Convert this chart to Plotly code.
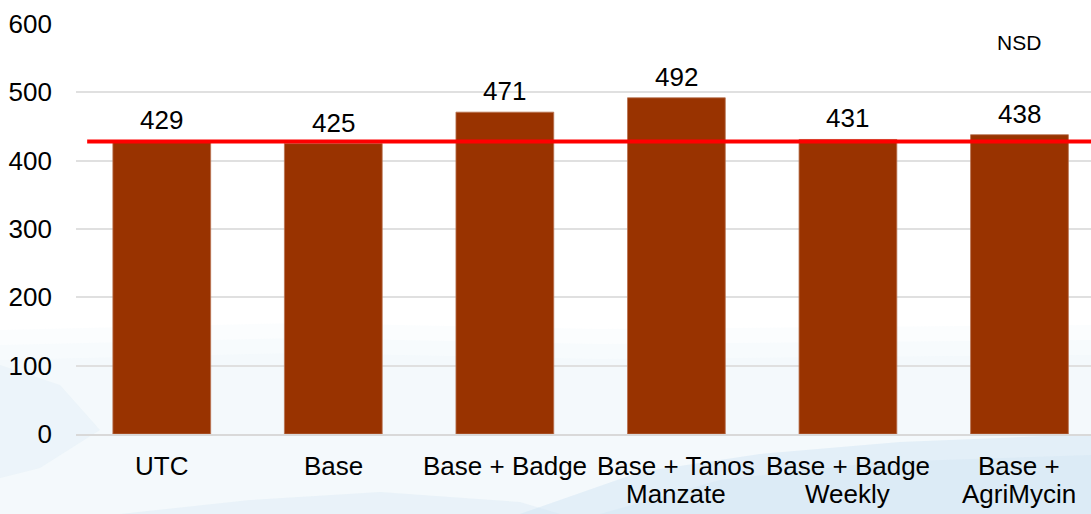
import plotly.graph_objects as go

categories = ["UTC", "Base", "Base + Badge", "Base + Tanos<br>Manzate", "Base + Badge<br>Weekly", "Base +<br>AgriMycin"]
values = [429, 425, 471, 492, 431, 438]
reference_level = 428
y_ticks = [0, 100, 200, 300, 400, 500, 600]
note_text = "NSD"

FONT = "Liberation Sans, Arial, sans-serif"

W, H = 1091, 514
ML, MR, MT, MB = 76, 0, 24, 80
PW, PH = W - ML - MR, H - MT - MB


def px(x, y):
    """pixel -> paper coords (decorative background only)"""
    return (x - ML) / PW, (H - MB - y) / PH


def path_from(points):
    pts = [px(x, y) for x, y in points]
    d = "M " + " L ".join(f"{a:.4f},{b:.4f}" for a, b in pts) + " Z"
    return d


fig = go.Figure()
fig.add_trace(go.Bar(
    x=categories, y=values,
    marker=dict(color="#993300", line=dict(color="#b8714f", width=0.8)),
    width=0.57,
    cliponaxis=False,
))

# faint sky/cloud backdrop (soft, layered)
bg_shapes = []
for top, a in [(325, 0.12), (340, 0.12), (355, 0.12)]:
    bg_shapes.append(([(0, top + 5), (300, top - 2), (600, top + 4), (1091, top), (1091, 514), (0, 514)],
                      f"rgba(220,237,247,{a})"))
bg_shapes += [
    ([(520, 514), (640, 472), (760, 454), (900, 442), (1000, 438), (1091, 434), (1091, 514)], "rgba(195,222,240,0.35)"),
    ([(600, 514), (720, 480), (880, 462), (1091, 455), (1091, 514)], "rgba(195,222,240,0.2)"),
    ([(0, 365), (60, 385), (100, 430), (40, 468), (0, 478)], "rgba(210,232,245,0.25)"),
    ([(120, 514), (250, 500), (380, 492), (520, 502), (560, 514)], "rgba(205,228,242,0.28)"),
]
for pts, col in bg_shapes:
    fig.add_shape(type="path", xref="paper", yref="paper", path=path_from(pts),
                  fillcolor=col, line=dict(width=0), layer="below")

# data labels
for c, v in zip(categories, values):
    fig.add_annotation(x=c, y=v, text=str(v), showarrow=False, yanchor="bottom",
                       yshift=4, font=dict(family=FONT, size=26, color="#000000"))

# category labels (tighter line spacing than tick labels allow)
for c in categories:
    for i, line in enumerate(c.split("<br>")):
        fig.add_annotation(x=c, y=0, xref="x", yref="y", text=line, showarrow=False,
                           yanchor="middle", yshift=-32 - 28 * i,
                           font=dict(family=FONT, size=26, color="#000000"))

fig.add_shape(type="line", xref="paper", yref="y", x0=0.011, x1=1,
              y0=reference_level, y1=reference_level,
              line=dict(color="#ff0000", width=4))

fig.add_annotation(text=note_text, xref="x", yref="paper", x=5, y=0.955, yanchor="middle",
                   showarrow=False, font=dict(family=FONT, size=21, color="#000000"))

fig.update_layout(
    width=W, height=H,
    margin=dict(l=ML, r=MR, t=MT, b=MB),
    paper_bgcolor="#ffffff", plot_bgcolor="rgba(0,0,0,0)",
    showlegend=False,
    font=dict(family=FONT, size=26, color="#000000"),
)
fig.update_xaxes(range=[-0.5, 5.417], showgrid=False, showline=True, linecolor="#d9d9d9",
                 linewidth=1.5, showticklabels=False)
fig.update_yaxes(range=[0, 600], tickvals=y_ticks, showgrid=True, gridcolor="#e0e0e0",
                 gridwidth=1.5, zeroline=False, tickfont=dict(family=FONT, size=26),
                 ticklabelstandoff=23)

fig.write_html("out.html")
